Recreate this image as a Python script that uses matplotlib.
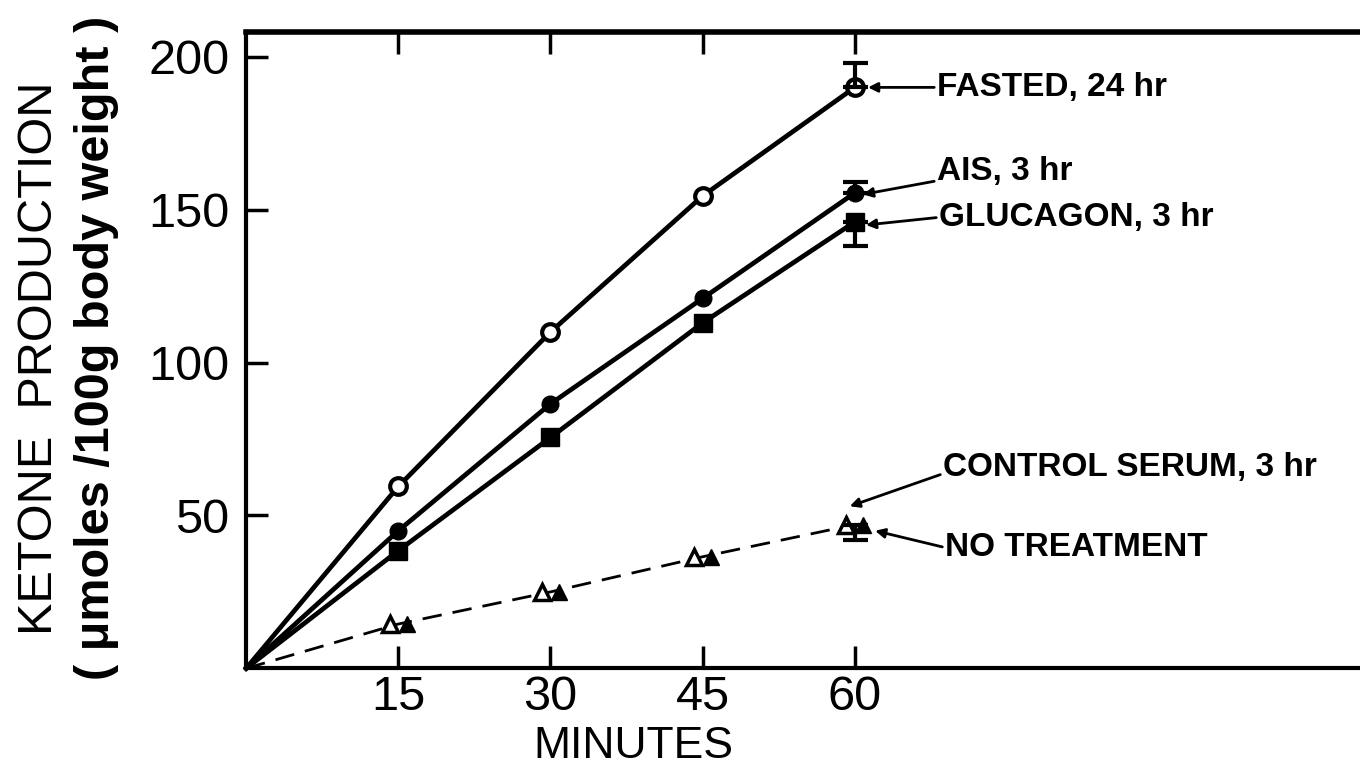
import matplotlib
matplotlib.use("Agg")
import matplotlib.pyplot as plt
import numpy as np

# values (minutes vs ketone production)
minutes = [0, 15, 30, 45, 60]
fasted = [0, 59.5, 110, 154.5, 190]
ais = [0, 45, 86.5, 121, 155.5]
glucagon = [0, 38.5, 75.5, 113, 146]
control_serum = [0, 14.5, 25, 36.5, 47]
no_treatment = [0, 14.5, 25, 36.5, 47]

# error bars at 60 min (lower, upper)
fasted_err = [0, 8]
ais_err = [0, 3.5]
glucagon_err = [8, 0]
triangle_err = [5, 0]

xticks = [15, 30, 45, 60]
yticks = [50, 100, 150, 200]

plt.rcParams['font.family'] = ['Liberation Sans', 'DejaVu Sans']

fig = plt.figure(figsize=(13.6, 7.7), dpi=100)
ax = fig.add_axes([0.181, 0.132, 0.819, 0.826])

x = np.array(minutes)
pts = [1, 2, 3, 4]  # no marker at the origin
solid = dict(color="black", lw=3.4, clip_on=False, markevery=pts)
ax.plot(x, fasted, marker="o", ms=12, mfc="white", mec="black", mew=3, **solid)
ax.plot(x, ais, marker="o", ms=12, mfc="black", mec="black", **solid)
ax.plot(x, glucagon, marker="s", ms=13, mfc="black", mec="black", **solid)

# control serum and no treatment share one dashed line, triangles side by side
ax.plot(x, control_serum, color="black", lw=2, dashes=(7, 4), clip_on=False)
off = 0.85
ax.plot(x[1:] - off, control_serum[1:], ls="none", marker="^", ms=11,
        mfc="white", mec="black", mew=2.5)
ax.plot(x[1:] + off, no_treatment[1:], ls="none", marker="^", ms=11,
        mfc="black", mec="black")

eb = dict(fmt="none", ecolor="black", elinewidth=3, capsize=9, capthick=3)
ax.errorbar([60], [fasted[-1]], yerr=[[fasted_err[0]], [fasted_err[1]]], **eb)
ax.errorbar([60], [ais[-1]], yerr=[[ais_err[0]], [ais_err[1]]], **eb)
ax.errorbar([60], [glucagon[-1]], yerr=[[glucagon_err[0]], [glucagon_err[1]]], **eb)
ax.errorbar([60], [no_treatment[-1]], yerr=[[triangle_err[0]], [triangle_err[1]]], **eb)

arrow = dict(arrowstyle="-|>", color="black", lw=2, mutation_scale=14,
             shrinkA=0, shrinkB=0)
txt = dict(fontsize=24, fontweight="bold", va="center", ha="left")
ax.annotate("FASTED, 24 hr", xy=(61.3, 190), xytext=(68.1, 190),
            arrowprops=dict(relpos=(0, 0.5), **arrow), **txt)
ax.annotate("AIS, 3 hr", xy=(60.8, 155), xytext=(68.1, 162.5),
            arrowprops=dict(relpos=(0, 0.2), **arrow), **txt)
ax.annotate("GLUCAGON, 3 hr", xy=(61.1, 145), xytext=(68.3, 147.5),
            arrowprops=dict(relpos=(0, 0.5), **arrow), **txt)
ax.annotate("CONTROL SERUM, 3 hr", xy=(59.5, 53), xytext=(68.7, 65.7),
            arrowprops=dict(relpos=(0, 0.3), **arrow), **txt)
ax.annotate("NO TREATMENT", xy=(62.0, 45), xytext=(68.9, 39.5),
            arrowprops=dict(relpos=(0, 0.5), **arrow), **txt)

ax.set_xlim(0, 109.8)
ax.set_ylim(0, 208)
ax.set_xticks(xticks)
ax.set_yticks(yticks)
ax.tick_params(direction="in", length=16, width=2.5, labelsize=35, top=True, pad=12)
ax.tick_params(axis="x", pad=5)
ax.spines["right"].set_visible(False)
ax.spines["top"].set_linewidth(4)
for s in ["left", "bottom"]:
    ax.spines[s].set_linewidth(3)

ax.text(38.2, -25.6, "MINUTES", fontsize=32, ha="center", va="center", clip_on=False)
fig.text(0.029, 0.535, "KETONE  PRODUCTION", fontsize=35, rotation=90,
         ha="center", va="center")
fig.text(0.071, 0.548, "( \u03bcmoles /100g body weight )", fontsize=35,
         fontweight="bold", rotation=90, ha="center", va="center")

fig.savefig("out.png", dpi=100)
